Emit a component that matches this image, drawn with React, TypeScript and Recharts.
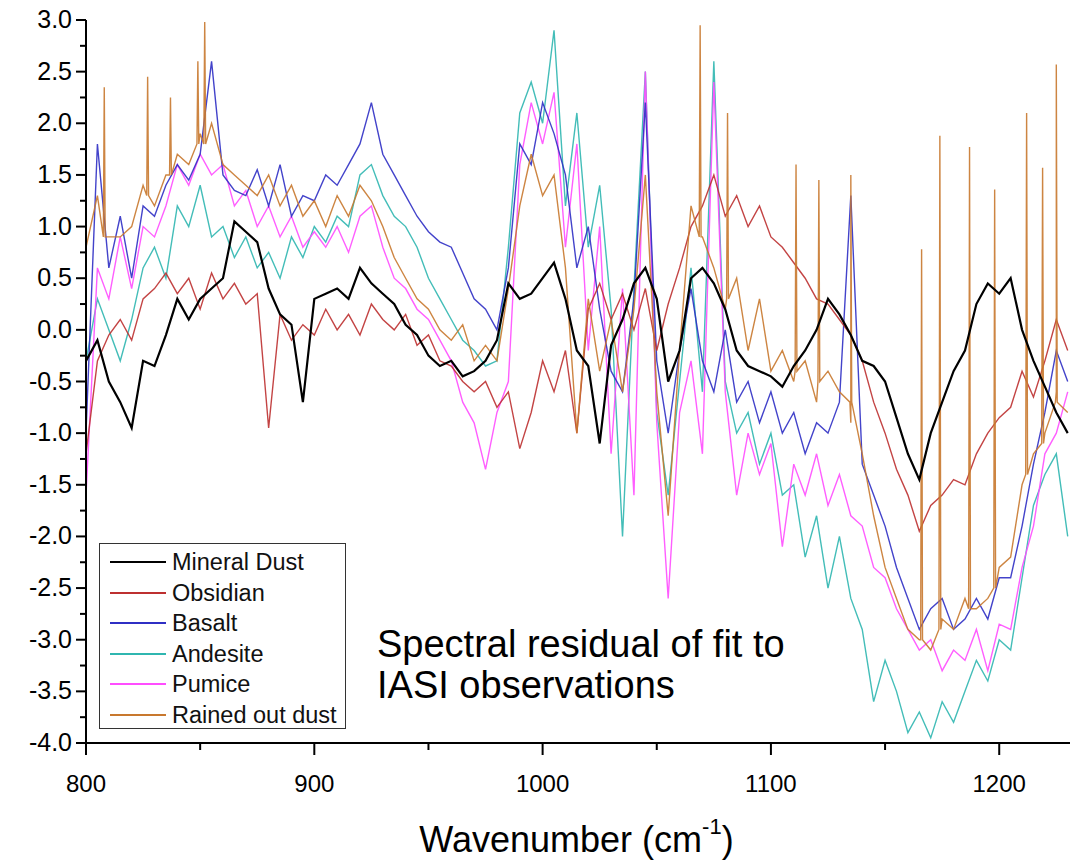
import { LineChart, Line, XAxis, YAxis } from "recharts";

// wavenumber grid (cm-1), values every 5 cm-1
const wavenumbers = [
  800, 805, 810, 815, 820, 825, 830, 835, 840, 845, 850, 855, 860, 865, 870, 875, 880, 885, 890, 895,
  900, 905, 910, 915, 920, 925, 930, 935, 940, 945, 950, 955, 960, 965, 970, 975, 980, 985, 990, 995,
  1000, 1005, 1010, 1015, 1020, 1025, 1030, 1035, 1040, 1045, 1050, 1055, 1060, 1065, 1070, 1075, 1080, 1085, 1090, 1095,
  1100, 1105, 1110, 1115, 1120, 1125, 1130, 1135, 1140, 1145, 1150, 1155, 1160, 1165, 1170, 1175, 1180, 1185, 1190, 1195,
  1200, 1205, 1210, 1215, 1220, 1225, 1230,
];

const mineralDust = [
  -0.3, -0.1, -0.5, -0.7, -0.95, -0.3, -0.35, -0.05, 0.3, 0.1, 0.3, 0.4, 0.5, 1.05, 0.95, 0.85, 0.4, 0.15, 0.05, -0.7,
  0.3, 0.35, 0.4, 0.3, 0.6, 0.45, 0.35, 0.25, 0.05, -0.05, -0.25, -0.35, -0.3, -0.45, -0.4, -0.3, -0.1, 0.45, 0.3, 0.35,
  0.5, 0.65, 0.3, -0.2, -0.35, -1.1, -0.15, 0.1, 0.45, 0.6, 0.3, -0.5, -0.2, 0.5, 0.6, 0.45, 0.2, -0.2, -0.35, -0.4,
  -0.45, -0.55, -0.35, -0.2, 0.0, 0.3, 0.15, -0.05, -0.3, -0.35, -0.5, -0.85, -1.2, -1.45, -1.0, -0.7, -0.4, -0.2, 0.25, 0.45,
  0.35, 0.5, 0.0, -0.3, -0.55, -0.8, -1.0,
];

const obsidian = [
  -1.2, -0.3, -0.05, 0.1, -0.1, 0.3, 0.4, 0.55, 0.35, 0.5, 0.2, 0.55, 0.3, 0.45, 0.25, 0.35, -0.95, 0.15, -0.1, 0.05,
  -0.05, 0.2, 0.0, 0.15, -0.05, 0.25, 0.1, 0.0, 0.15, -0.15, -0.05, -0.3, -0.35, -0.5, -0.6, -0.5, -0.75, -0.6, -1.15, -0.8,
  -0.3, -0.6, -0.2, -1.0, 0.2, 0.45, 0.1, 0.35, 0.0, 0.4, -0.2, 0.25, 0.6, 1.0, 1.2, 1.5, 1.1, 1.3, 1.0, 1.2,
  0.9, 0.8, 0.65, 0.5, 0.3, 0.25, 0.1, -0.05, -0.3, -0.7, -1.0, -1.35, -1.6, -1.95, -1.7, -1.6, -1.45, -1.5, -1.2, -1.0,
  -0.85, -0.75, -0.4, -0.65, -0.3, 0.1, -0.2,
];

const basalt = [
  -1.0, 1.8, 0.6, 1.1, 0.5, 1.2, 1.1, 1.4, 1.6, 1.45, 1.7, 2.6, 1.5, 1.35, 1.3, 1.55, 1.2, 1.6, 1.1, 1.3,
  1.25, 1.5, 1.4, 1.6, 1.8, 2.2, 1.7, 1.5, 1.3, 1.1, 0.95, 0.85, 0.8, 0.55, 0.3, 0.2, 0.0, 0.6, 1.8, 1.6,
  2.2, 1.9, 1.5, 0.6, 1.0, 0.2, -0.4, -0.6, 0.3, 2.2, -0.3, -1.0, -0.2, 0.4, -0.3, -0.6, 0.0, -0.7, -0.5, -0.9,
  -0.6, -1.0, -0.8, -1.2, -0.9, -1.0, -0.7, 1.3, -1.3, -1.6, -1.9, -2.3, -2.6, -2.9, -2.7, -2.6, -2.9, -2.8, -2.6, -2.8,
  -2.4, -2.4, -1.9, -1.3, -0.8, -0.2, -0.5,
];

const andesite = [
  -0.3, 0.3, 0.0, -0.3, 0.1, 0.6, 0.8, 0.5, 1.2, 1.0, 1.4, 0.9, 1.0, 0.7, 0.9, 0.6, 0.75, 0.5, 0.9, 0.7,
  1.0, 0.85, 1.1, 1.0, 1.5, 1.6, 1.3, 1.1, 1.0, 0.8, 0.5, 0.3, 0.1, -0.1, -0.2, -0.35, -0.3, 0.8, 2.1, 2.4,
  2.0, 2.9, 1.2, 2.1, 0.8, 1.4, 0.2, -2.0, 0.4, 2.5, -0.8, -1.6, -0.5, 0.6, -0.6, 2.6, -0.5, -1.0, -0.8, -1.3,
  -1.0, -1.6, -1.5, -2.2, -1.8, -2.5, -2.0, -2.6, -2.9, -3.6, -3.2, -3.5, -3.9, -3.7, -3.95, -3.6, -3.8, -3.5, -3.2, -3.4,
  -3.0, -3.1, -2.4, -1.7, -1.4, -1.2, -2.0,
];

const pumice = [
  -1.6, 0.6, 0.3, 0.9, 0.4, 1.0, 0.9, 1.2, 1.6, 1.4, 1.7, 1.5, 1.6, 1.2, 1.35, 1.0, 1.2, 0.9, 1.1, 0.8,
  0.95, 0.8, 1.0, 0.75, 1.1, 1.2, 0.8, 0.5, 0.4, 0.2, 0.1, -0.1, -0.3, -0.7, -0.9, -1.35, -0.8, -0.5, 1.6, 2.2,
  1.8, 2.3, 0.8, 1.8, -0.2, 1.0, -1.2, 0.4, -1.6, 2.5, -0.9, -2.6, -0.8, -0.3, -1.2, 2.4, -0.6, -1.6, -1.0, -1.4,
  -1.1, -2.1, -1.3, -1.6, -1.2, -1.7, -1.4, -1.8, -1.9, -2.3, -2.4, -2.7, -2.9, -3.1, -3.0, -3.3, -3.1, -3.2, -2.9, -3.3,
  -2.85, -2.9, -2.3, -1.9, -1.2, -1.0, -0.6,
];

// rained out dust: background level on the grid, plus its narrow emission-line spikes
const rainedOutDust = [
  0.8, 1.3, 0.9, 0.9, 1.0, 1.4, 1.2, 1.5, 1.7, 1.6, 1.9, 2.0, 1.6, 1.5, 1.4, 1.3, 1.5, 1.2, 1.4, 1.1,
  1.25, 1.0, 1.3, 1.1, 1.4, 1.25, 1.0, 0.7, 0.5, 0.3, 0.2, 0.0, -0.1, 0.05, -0.3, -0.15, -0.3, 0.4, 1.2, 1.7,
  1.3, 1.5, 0.6, -1.0, 0.3, -0.4, 0.1, -0.6, 0.2, 1.5, -0.6, -1.8, -0.2, 1.2, 0.9, 0.6, 0.2, 0.5, -0.2, 0.3,
  -0.4, -0.2, -0.5, -0.3, -0.7, -0.4, -0.6, -0.9, -1.2, -1.8, -2.3, -2.6, -2.9, -3.0, -3.1, -2.8, -2.9, -2.6, -2.7, -2.6,
  -2.3, -2.2, -1.5, -1.2, -1.0, -0.6, -0.8,
];
const rainedSpikeWn = [808, 827, 837, 849, 852, 1069, 1081, 1111, 1121, 1135, 1166, 1174, 1187, 1198, 1212, 1219, 1225];
const rainedSpikePeak = [2.35, 2.45, 2.25, 2.6, 2.98, 2.95, 2.1, 1.6, 1.45, 1.5, 0.78, 1.88, 1.77, 1.36, 2.1, 1.57, 2.57];
const rainedSpikeBase = [0.9, 1.3, 1.5, 1.8, 1.8, 0.9, 0.3, -0.4, -0.5, -0.7, -3.0, -2.9, -2.7, -2.5, -1.4, -1.1, -0.7];

const xTicks = [800, 850, 900, 950, 1000, 1050, 1100, 1150, 1200];
const yTicks = [
  -4, -3.75, -3.5, -3.25, -3, -2.75, -2.5, -2.25, -2, -1.75, -1.5, -1.25, -1, -0.75, -0.5, -0.25,
  0, 0.25, 0.5, 0.75, 1, 1.25, 1.5, 1.75, 2, 2.25, 2.5, 2.75, 3,
];

const series = [
  { key: "mineralDust", name: "Mineral Dust", color: "#000000", width: 2.2 },
  { key: "obsidian", name: "Obsidian", color: "#bd3030", width: 1.4 },
  { key: "basalt", name: "Basalt", color: "#2f2fc4", width: 1.4 },
  { key: "andesite", name: "Andesite", color: "#2fb6b0", width: 1.4 },
  { key: "pumice", name: "Pumice", color: "#ff4dff", width: 1.4 },
  { key: "rainedOutDust", name: "Rained out dust", color: "#c8782e", width: 1.4 },
];

const drawOrder = ["andesite", "pumice", "basalt", "obsidian", "rainedOutDust", "mineralDust"];

const rows = wavenumbers.map((wn, i) => ({
  wn,
  mineralDust: mineralDust[i],
  obsidian: obsidian[i],
  basalt: basalt[i],
  andesite: andesite[i],
  pumice: pumice[i],
}));

const rainedRows = [
  ...wavenumbers.map((wn, i) => ({ wn, rainedOutDust: rainedOutDust[i] })),
  ...rainedSpikeWn.flatMap((wn, i) => [
    { wn: wn - 0.4, rainedOutDust: rainedSpikeBase[i] },
    { wn, rainedOutDust: rainedSpikePeak[i] },
    { wn: wn + 0.4, rainedOutDust: rainedSpikeBase[i] },
  ]),
].sort((a, b) => a.wn - b.wn);

const W = 1077;
const H = 866;
const LEFT = 86;
const RIGHT = 1070;
const TOP = 20;
const BOTTOM = 743;
const FONT = '"Liberation Sans", Arial, sans-serif';

const isMajorY = (v: number) => Math.abs(v * 2 - Math.round(v * 2)) < 1e-6;

function BottomTick(props: any) {
  const { x, payload } = props;
  const major = payload.value % 100 === 0;
  return (
    <g>
      <line x1={x} x2={x} y1={BOTTOM} y2={BOTTOM + (major ? 12 : 7)} stroke="#000" strokeWidth={2} />
      {major && (
        <text x={x} y={792} textAnchor="middle" fontFamily={FONT} fontSize={24} fill="#000">
          {payload.value}
        </text>
      )}
    </g>
  );
}

function TopTick(props: any) {
  const { x, payload } = props;
  const major = payload.value % 100 === 0;
  return <line x1={x} x2={x} y1={TOP} y2={TOP + (major ? 10 : 6)} stroke="#000" strokeWidth={2} />;
}

function LeftTick(props: any) {
  const { y, payload } = props;
  const major = isMajorY(payload.value);
  return (
    <g>
      <line x1={LEFT - (major ? 10 : 6)} x2={LEFT} y1={y} y2={y} stroke="#000" strokeWidth={2} />
      {major && (
        <text x={72} y={y + 8} textAnchor="end" fontFamily={FONT} fontSize={25} fill="#000">
          {payload.value.toFixed(1)}
        </text>
      )}
    </g>
  );
}

function RightTick(props: any) {
  const { y, payload } = props;
  const major = isMajorY(payload.value);
  return <line x1={RIGHT - (major ? 12 : 7)} x2={RIGHT} y1={y} y2={y} stroke="#000" strokeWidth={2} />;
}

export default function App() {
  return (
    <div style={{ position: "absolute", left: 0, top: 0, width: W, height: H, background: "#fff", fontFamily: FONT }}>
      <LineChart width={W} height={H} data={rows} margin={{ top: TOP, right: W - RIGHT, bottom: 0, left: 0 }}>
        <XAxis
          dataKey="wn"
          type="number"
          domain={[800, 1231]}
          ticks={xTicks}
          allowDataOverflow
          height={H - BOTTOM}
          axisLine={{ stroke: "#000", strokeWidth: 2 }}
          tickLine={false}
          tick={<BottomTick />}
          interval={0}
        />
        <XAxis
          xAxisId="top"
          orientation="top"
          dataKey="wn"
          type="number"
          domain={[800, 1231]}
          ticks={xTicks}
          allowDataOverflow
          height={0}
          axisLine={{ stroke: "#000", strokeWidth: 2 }}
          tickLine={false}
          tick={<TopTick />}
          interval={0}
        />
        <YAxis
          type="number"
          domain={[-4, 3]}
          ticks={yTicks}
          allowDataOverflow
          width={LEFT}
          axisLine={{ stroke: "#000", strokeWidth: 2 }}
          tickLine={false}
          tick={<LeftTick />}
          interval={0}
        />
        <YAxis
          yAxisId="right"
          orientation="right"
          type="number"
          domain={[-4, 3]}
          ticks={yTicks}
          allowDataOverflow
          width={0}
          axisLine={{ stroke: "#000", strokeWidth: 2 }}
          tickLine={false}
          tick={<RightTick />}
          interval={0}
        />
        {drawOrder.map((k) => {
          const s = series.find((d) => d.key === k)!;
          return (
            <Line
              key={s.key}
              type="linear"
              data={s.key === "rainedOutDust" ? rainedRows : undefined}
              dataKey={s.key}
              name={s.name}
              stroke={s.color}
              strokeWidth={s.width}
              strokeOpacity={s.key === "mineralDust" ? 1 : 0.9}
              dot={false}
              activeDot={false}
              isAnimationActive={false}
            />
          );
        })}
      </LineChart>

      {/* legend box */}
      <div
        style={{
          position: "absolute",
          left: 99,
          top: 543,
          width: 247,
          height: 186,
          border: "1px solid #333",
          background: "#fff",
          boxSizing: "border-box",
        }}
      >
        {series.map((s, i) => (
          <div key={s.key} style={{ position: "absolute", left: 0, top: 3 + i * 30.6, height: 30, width: 246 }}>
            <div
              style={{
                position: "absolute",
                left: 10,
                top: 14,
                width: 56,
                height: 0,
                borderTop: `${s.key === "mineralDust" ? 2.5 : 2}px solid ${s.color}`,
              }}
            />
            <div style={{ position: "absolute", left: 72, top: 1, fontSize: 23.5, lineHeight: "28px", color: "#111", whiteSpace: "nowrap" }}>
              {s.name}
            </div>
          </div>
        ))}
      </div>

      {/* annotation */}
      <div style={{ position: "absolute", left: 377, top: 624, fontSize: 38, lineHeight: "41px", color: "#000" }}>
        Spectral residual of fit to
        <br />
        IASI observations
      </div>

      {/* x axis title */}
      <div
        style={{
          position: "absolute",
          left: 0,
          width: W,
          top: 818,
          textAlign: "center",
          fontSize: 36,
          lineHeight: "44px",
          color: "#000",
          paddingLeft: 76,
          boxSizing: "border-box",
        }}
      >
        Wavenumber (cm<sup style={{ fontSize: 22, verticalAlign: "18px", lineHeight: 0 }}>-1</sup>)
      </div>
    </div>
  );
}
